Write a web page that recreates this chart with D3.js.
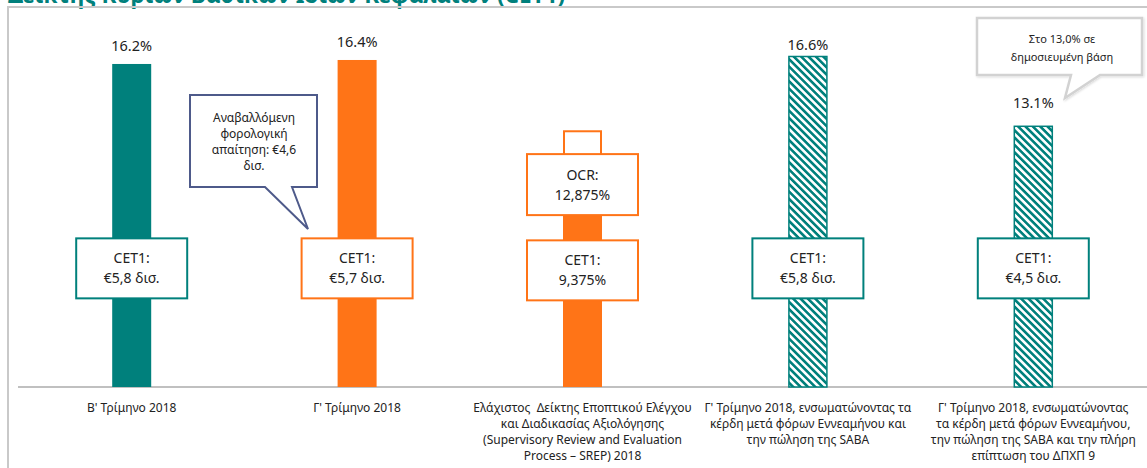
<!DOCTYPE html>
<html>
<head>
<meta charset="utf-8">
<script src="https://cdn.jsdelivr.net/npm/d3@7"></script>
<style>
  html, body { margin: 0; padding: 0; background: #fff; }
  svg { display: block; font-family: "Noto Sans", "Open Sans", sans-serif; }
</style>
</head>
<body>
<svg id="chart" width="1147" height="468"></svg>
<script>
// ---- data ----
const titleText = "Δείκτης Κύριων Βασικών Ιδίων Κεφαλαίων (CET1)";
const categories = [
  ["Β' Τρίμηνο 2018"],
  ["Γ' Τρίμηνο 2018"],
  ["Ελάχιστος  Δείκτης Εποπτικού Ελέγχου", "και Διαδικασίας Αξιολόγησης", "(Supervisory Review and Evaluation", "Process – SREP) 2018"],
  ["Γ' Τρίμηνο 2018, ενσωματώνοντας τα", "κέρδη μετά φόρων Εννεαμήνου και", "την πώληση της SABA"],
  ["Γ' Τρίμηνο 2018, ενσωματώνοντας", "τα κέρδη μετά φόρων Εννεαμήνου,", "την πώληση της SABA και την πλήρη", "επίπτωση του ΔΠΧΠ 9"]
];
const totalValues = [16.2, 16.4, 12.875, 16.6, 13.1];
const filledValues = [16.2, 16.4, 9.375, 16.6, 13.1];
const valueLabels = ["16.2%", "16.4%", null, "16.6%", "13.1%"];
const barStyles = ["teal", "orange", "orange", "hatch", "hatch"];
const cet1Labels = [
  ["CET1:", "€5,8 δισ."],
  ["CET1:", "€5,7 δισ."],
  ["CET1:", "9,375%"],
  ["CET1:", "€5,8 δισ."],
  ["CET1:", "€4,5 δισ."]
];
const ocrLabel = ["OCR:", "12,875%"];
const callout1 = ["Αναβαλλόμενη", "φορολογική", "απαίτηση: €4,6", "δισ."];
const callout2 = ["Στο 13,0% σε", "δημοσιευμένη βάση"];

// ---- setup ----
const svg = d3.select("#chart");
const W = 1147, H = 468;
const TEAL = "#00807C", ORANGE = "#FF7417";
const baseY = 387;

const x = d3.scaleBand().domain(d3.range(categories.length)).range([19, 1146]).padding(0);
const y = d3.scaleLinear().domain([0, 20]).range([baseY, baseY - 398.8]);
const barW = 39;
const cx = i => x(i) + x.bandwidth() / 2;
const labelGap = [13, 13, 0, 6, 18];

const defs = svg.append("defs");
const P = 5.2;
const pat = defs.append("pattern")
  .attr("id", "hatch").attr("patternUnits", "userSpaceOnUse")
  .attr("width", P).attr("height", P)
  .attr("patternTransform", "rotate(-45)");
pat.append("rect").attr("width", P).attr("height", P).attr("fill", "#fff");
pat.append("rect").attr("width", P * 0.5).attr("height", P).attr("fill", TEAL);

const shadow = defs.append("filter").attr("id", "sh").attr("x", "-10%").attr("y", "-10%").attr("width", "130%").attr("height", "140%");
shadow.append("feDropShadow").attr("dx", 1).attr("dy", 1).attr("stdDeviation", 1).attr("flood-color", "#000").attr("flood-opacity", 0.15);

// title (cut off at the top, as in the reference)
svg.append("text").attr("x", 8).attr("y", 3)
  .attr("fill", TEAL).attr("font-weight", "bold").attr("font-size", 22.5)
  .text(titleText);

// frame
svg.append("path").attr("d", `M8,${H} L8,7 L${W},7`).attr("fill", "none")
  .attr("stroke", "#c9c9c9").attr("stroke-width", 2);

// axis baseline
svg.append("line").attr("x1", 18).attr("x2", W).attr("y1", baseY).attr("y2", baseY)
  .attr("stroke", "#c0c0c0").attr("stroke-width", 2);

// bars
const colorOf = s => s === "teal" ? TEAL : s === "orange" ? ORANGE : "url(#hatch)";
const g = svg.append("g");
categories.forEach((c, i) => {
  const x0 = cx(i) - barW / 2;
  if (totalValues[i] > filledValues[i]) {
    g.append("rect").attr("x", x0 + 1).attr("width", barW - 2)
      .attr("y", y(totalValues[i]) + 1).attr("height", y(filledValues[i]) - y(totalValues[i]))
      .attr("fill", "#fff").attr("stroke", ORANGE).attr("stroke-width", 2);
  }
  const isHatch = barStyles[i] === "hatch";
  g.append("rect").attr("x", isHatch ? x0 + 0.5 : x0).attr("width", isHatch ? barW - 1 : barW)
    .attr("y", y(filledValues[i]) + (isHatch ? 0.5 : 0)).attr("height", baseY - y(filledValues[i]) - (isHatch ? 0.5 : 0))
    .attr("fill", colorOf(barStyles[i]))
    .attr("stroke", isHatch ? TEAL : "none").attr("stroke-width", 1.5);
  if (valueLabels[i]) {
    g.append("text").attr("x", cx(i)).attr("y", y(totalValues[i]) - labelGap[i])
      .attr("text-anchor", "middle").attr("font-size", 14.5).attr("fill", "#222")
      .text(valueLabels[i]);
  }
});

// boxes
function box(i, vCenter, h, lines, color) {
  const bw = 111;
  const yc = y(vCenter);
  g.append("rect").attr("x", cx(i) - bw / 2).attr("y", yc - h / 2).attr("width", bw).attr("height", h)
    .attr("fill", "#fff").attr("stroke", color).attr("stroke-width", 2);
  lines.forEach((t, k) => {
    g.append("text").attr("x", cx(i)).attr("y", yc - 10 + k * 20 + 5)
      .attr("text-anchor", "middle").attr("font-size", 14).attr("fill", "#222").text(t);
  });
}
categories.forEach((c, i) => {
  const col = barStyles[i] === "orange" ? ORANGE : TEAL;
  box(i, i === 2 ? 5.85 : 5.95, 60, cet1Labels[i], col);
});
box(2, 10.15, 61, ocrLabel, ORANGE);

// x labels
categories.forEach((lines, i) => {
  lines.forEach((t, k) => {
    svg.append("text").attr("x", cx(i)).attr("y", 412 + k * 16)
      .attr("text-anchor", "middle").attr("font-size", 12).attr("fill", "#222")
      .attr("xml:space", "preserve").text(t);
  });
});

// callout 1
svg.append("path")
  .attr("d", "M190,95 L317,95 L317,187 L292,187 L308,229 L265,187 L190,187 Z")
  .attr("fill", "#fff").attr("stroke", "#4E5A8A").attr("stroke-width", 2).attr("stroke-linejoin", "miter");
callout1.forEach((t, k) => {
  svg.append("text").attr("x", 254).attr("y", 122 + k * 16)
    .attr("text-anchor", "middle").attr("font-size", 12).attr("fill", "#222").text(t);
});

// callout 2
svg.append("path")
  .attr("d", "M977,18 L1142,18 L1142,75 L1100,75 L1065,98 L1071,75 L977,75 Z")
  .attr("fill", "#fff").attr("stroke", "#d2d2d2").attr("stroke-width", 2.5).attr("filter", "url(#sh)");
callout2.forEach((t, k) => {
  svg.append("text").attr("x", 1062).attr("y", 43 + k * 18)
    .attr("text-anchor", "middle").attr("font-size", 11).attr("fill", "#222").text(t);
});
</script>
</body>
</html>
